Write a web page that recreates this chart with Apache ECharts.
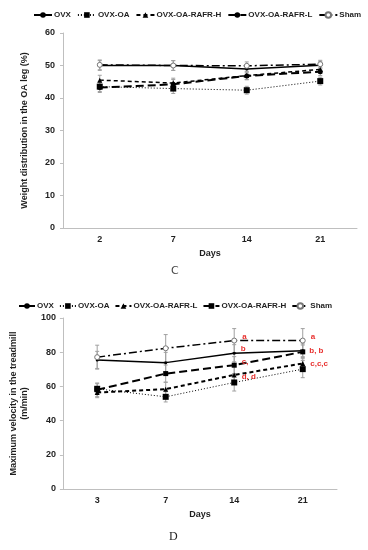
<!DOCTYPE html>
<html><head><meta charset="utf-8">
<script src="https://cdn.jsdelivr.net/npm/echarts@6/dist/echarts.min.js"></script>
<style>html,body{margin:0;padding:0;background:#fff;}
#c1{position:absolute;left:0;top:0;width:368px;height:285px;}
#c2{position:absolute;left:0;top:285px;width:368px;height:265px;}</style>
</head><body><div id="c1"></div><div id="c2"></div>
<script>
// ---- Panel C: weight distribution ----
const daysC = ['2', '7', '14', '21'];
const ovxC = [50.0, 50.0, 48.9, 50.1];
const ovxOaC = [43.5, 42.9, 42.4, 45.2];
const rafrHC = [45.5, 44.6, 46.9, 48.8];
const rafrLC = [43.2, 44.2, 46.8, 48.1];
const shamC = [50.2, 50.0, 49.9, 50.4];
const errC = [1.5, 1.5, 1.2, 1.2];
const yTicksC = [0, 60, 10];

// ---- Panel D: maximum velocity ----
const daysD = ['3', '7', '14', '21'];
const ovxD = [75.5, 73.9, 79.4, 80.9];
const ovxOaD = [58.6, 53.9, 62.3, 70.1];
const rafrLD = [56.4, 58.4, 66.7, 73.4];
const rafrHD = [58.0, 67.5, 72.4, 80.2];
const shamD = [77.1, 82.3, 86.8, 86.8];
const errOvxD = [5, 6, 5, 4];
const errOvxOaD = [3, 3, 5, 5];
const errRafrLD = [3, 4, 5, 4];
const errRafrHD = [4, 5, 5, 4];
const errShamD = [7, 8, 7, 7];
const yTicksD = [0, 100, 20];
const annotShamD = ['', '', 'a', 'a'];
const annotOvxD = ['', '', 'b', 'b, b'];
const annotRafrHD = ['', '', 'c,', ''];
const annotRafrLD = ['', '', 'd, d', 'c,c,c'];

const FONT = '"Liberation Sans", Arial, sans-serif';
const TXT = '#1f1f1f';
const AX = '#bfbfbf';

function errSeries(vals, errs) {
  return {
    type: 'custom', silent: true, z: 1,
    encode: { x: 0, y: 1 },
    data: vals.map((v, i) => [i, v, errs[i]]),
    renderItem: function (params, api) {
      const x = api.value(0), v = api.value(1), e = api.value(2);
      const t = api.coord([x, v + e]), b = api.coord([x, v - e]);
      const w = 2, st = { stroke: '#a0a0a0', lineWidth: 1 };
      return { type: 'group', children: [
        { type: 'line', shape: { x1: t[0], y1: t[1], x2: b[0], y2: b[1] }, style: st },
        { type: 'line', shape: { x1: t[0] - w, y1: t[1], x2: t[0] + w, y2: t[1] }, style: st },
        { type: 'line', shape: { x1: b[0] - w, y1: b[1], x2: b[0] + w, y2: b[1] }, style: st }
      ]};
    }
  };
}

function lineS(name, data, dash, width, symbol, size, hollow, annot, offsets) {
  return {
    name: name, type: 'line', data: data.map((v, i) => {
      const item = { value: v };
      if (annot && annot[i]) {
        item.label = { show: true, formatter: annot[i], position: 'right', distance: 5,
          offset: offsets ? offsets[i] : [0, 0],
          color: '#e8312f', fontWeight: 'bold', fontSize: 8, fontFamily: FONT };
      }
      return item;
    }),
    symbol: symbol, symbolSize: size, showSymbol: true, z: 3,
    lineStyle: { color: '#000', width: width, type: dash },
    itemStyle: hollow ? { color: '#fff', borderColor: '#777', borderWidth: 1 } : { color: '#000', borderWidth: 0 },
    label: { show: false }
  };
}

function baseAxes(days, ticks, yName, nameGap, labMargin) {
  return {
    xAxis: {
      type: 'category', data: days, boundaryGap: true,
      name: 'Days', nameLocation: 'middle', nameGap: 19,
      nameTextStyle: { color: TXT, fontWeight: 'bold', fontSize: 9, fontFamily: FONT },
      axisLine: { lineStyle: { color: AX, width: 1 } },
      axisTick: { show: false },
      axisLabel: { color: TXT, fontWeight: 'bold', fontSize: 9, fontFamily: FONT, margin: 7 }
    },
    yAxis: {
      type: 'value', min: ticks[0], max: ticks[1], interval: ticks[2],
      name: yName, nameLocation: 'middle', nameGap: nameGap,
      nameTextStyle: { color: TXT, fontWeight: 'bold', fontSize: 9, fontFamily: FONT, lineHeight: 11 },
      axisLine: { show: true, lineStyle: { color: AX, width: 1 } },
      axisTick: { show: true, length: 3, lineStyle: { color: AX } },
      splitLine: { show: false },
      axisLabel: { color: TXT, fontWeight: 'bold', fontSize: 9, fontFamily: FONT, margin: labMargin }
    }
  };
}

function legendOpt(left, top, names, itemWidth, itemGap) {
  return {
    left: left, top: top, data: names,
    itemWidth: itemWidth, itemHeight: 7, itemGap: itemGap,
    textStyle: { color: TXT, fontWeight: 'bold', fontSize: 8, fontFamily: FONT, padding: [0, 0, 0, -3] }
  };
}

// Chart C
const ch1 = echarts.init(document.getElementById('c1'));
const ax1 = baseAxes(daysC, yTicksC, 'Weight distribution in the OA leg (%)', 33, 8);
ch1.setOption({
  animation: false,
  grid: { left: 63, right: 11, top: 33, height: 195 },
  legend: legendOpt(28, 6, ['OVX', 'OVX-OA', 'OVX-OA-RAFR-H', 'OVX-OA-RAFR-L', 'Sham'], 18, 6),
  xAxis: ax1.xAxis, yAxis: ax1.yAxis,
  graphic: [{ type: 'text', left: 171, top: 266, style: { text: 'C', fontSize: 11, fill: '#444', fontFamily: '"DejaVu Sans", sans-serif' } }],
  series: [
    errSeries(ovxC, errC), errSeries(ovxOaC, errC), errSeries(rafrHC, errC), errSeries(rafrLC, errC), errSeries(shamC, errC),
    lineS('OVX', ovxC, 'solid', 1.5, 'circle', 3, false),
    lineS('OVX-OA', ovxOaC, [1, 2], 1, 'rect', 6, false),
    lineS('OVX-OA-RAFR-H', rafrHC, [4, 3], 1.5, 'triangle', 5, false),
    lineS('OVX-OA-RAFR-L', rafrLC, [8, 4], 2, 'circle', 5, false),
    lineS('Sham', shamC, [8, 3, 2, 3], 1.5, 'circle', 5, true)
  ]
});

// Chart D
const ch2 = echarts.init(document.getElementById('c2'));
const ax2 = baseAxes(daysD, yTicksD, 'Maximum velocity in the treadmill\n(m/min)', 21, 7);
ch2.setOption({
  animation: false,
  grid: { left: 50, right: 31, top: 33, height: 171 },
  legend: legendOpt(13, 12, ['OVX', 'OVX-OA', 'OVX-OA-RAFR-L', 'OVX-OA-RAFR-H', 'Sham'], 16, 5),
  xAxis: ax2.xAxis, yAxis: ax2.yAxis,
  graphic: [{ type: 'text', left: 169, top: 246, style: { text: 'D', fontSize: 12, fill: '#222', fontFamily: '"Liberation Serif", serif' } }],
  series: [
    errSeries(ovxD, errOvxD), errSeries(ovxOaD, errOvxOaD), errSeries(rafrLD, errRafrLD), errSeries(rafrHD, errRafrHD), errSeries(shamD, errShamD),
    lineS('OVX', ovxD, 'solid', 1.5, 'circle', 3, false, annotOvxD, [0, 0, [0, -4], [0, 0]]),
    lineS('OVX-OA', ovxOaD, [1, 2], 1, 'rect', 6, false),
    lineS('OVX-OA-RAFR-L', rafrLD, [4, 3], 2, 'triangle', 5, false, annotRafrLD, [0, 0, [0, 2], [0, 0]]),
    lineS('OVX-OA-RAFR-H', rafrHD, [8, 4], 2, 'rect', 5, false, annotRafrHD, [0, 0, [0, -3], 0]),
    lineS('Sham', shamD, [8, 3, 2, 3], 1.5, 'circle', 5, true, annotShamD, [0, 0, [0, -4], [0, -4]])
  ]
});
</script></body></html>
